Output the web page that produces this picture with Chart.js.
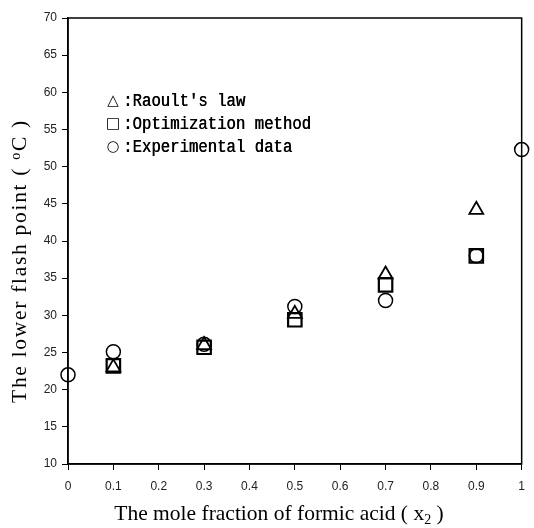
<!DOCTYPE html>
<html>
<head>
<meta charset="utf-8">
<script src="https://cdn.jsdelivr.net/npm/chart.js@4.4.0/dist/chart.umd.min.js"></script>
<style>
  html, body { margin: 0; padding: 0; background: #fff; }
  #wrap { width: 534px; height: 528px; }
</style>
</head>
<body>
<div id="wrap"><canvas id="chart" width="534" height="528"></canvas></div>
<script>
// mole fraction of formic acid (x2)
const xRaoult = [0.1, 0.3, 0.5, 0.7, 0.9];
const raoultLaw = [23.0, 26.0, 30.2, 35.5, 44.2];

const xOptim = [0.1, 0.3, 0.5, 0.7, 0.9];
const optimization = [23.2, 25.7, 29.4, 34.1, 38.0];

const xExp = [0, 0.1, 0.3, 0.5, 0.7, 0.9, 1];
const experimental = [22.0, 25.1, 26.1, 31.2, 32.0, 38.0, 52.3];

const xTicks = [0, 0.1, 0.2, 0.3, 0.4, 0.5, 0.6, 0.7, 0.8, 0.9, 1];
const yTicks = [10, 15, 20, 25, 30, 35, 40, 45, 50, 55, 60, 65, 70];

const legendLabels = [
  { sym: '\u25B3', text: ":Raoult's law" },
  { sym: '\u25A1', text: ':Optimization method' },
  { sym: '\u25CB', text: ':Experimental data' },
];

const toPoints = (xs, ys) => xs.map((x, i) => ({ x: x, y: ys[i] }));

// frame, legend and axis titles drawn on top
const decorations = {
  id: 'decorations',
  afterDraw(chart) {
    const { ctx, chartArea: a } = chart;
    ctx.save();
    ctx.strokeStyle = '#000';
    ctx.lineWidth = 1.5;
    ctx.strokeRect(a.left, a.top, a.right - a.left, a.bottom - a.top);

    // legend
    ctx.fillStyle = '#000';
    ctx.textBaseline = 'middle';
    legendLabels.forEach((item, i) => {
      const y = a.top + 83 + i * 23;
      ctx.font = '15px "DejaVu Sans"';
      ctx.textAlign = 'center';
      ctx.fillText(item.sym, a.left + 45, y);
      ctx.save();
      ctx.translate(a.left + 55, y);
      ctx.scale(0.87, 1);
      ctx.font = '18px "Liberation Mono"';
      ctx.textAlign = 'left';
      ctx.fillText(item.text, 0, 0);
      ctx.fillText(item.text, 0.5, 0);
      ctx.restore();
    });

    // x title
    ctx.textBaseline = 'alphabetic';
    ctx.textAlign = 'left';
    const big = '21.5px "Liberation Serif"';
    const small = '14px "Liberation Serif"';
    const xa = 'The mole fraction of formic acid ( x';
    const xb = ' )';
    ctx.font = big; const w1 = ctx.measureText(xa).width;
    ctx.font = small; const w2 = ctx.measureText('2').width;
    ctx.font = big; const w3 = ctx.measureText(xb).width;
    let x0 = 279 - (w1 + w2 + w3) / 2;
    const by = 520;
    ctx.font = big; ctx.fillText(xa, x0, by);
    ctx.font = small; ctx.fillText('2', x0 + w1, by + 4);
    ctx.font = big; ctx.fillText(xb, x0 + w1 + w2, by);

    // y title
    ctx.save();
    ctx.translate(26, 261);
    ctx.rotate(-Math.PI / 2);
    ctx.letterSpacing = '1.7px';
    const ya = 'The lower flash point ( ';
    const yb = 'C )';
    ctx.font = big; const v1 = ctx.measureText(ya).width;
    ctx.font = small; const v2 = ctx.measureText('o').width;
    ctx.font = big; const v3 = ctx.measureText(yb).width;
    let y0 = -(v1 + v2 + v3) / 2;
    ctx.font = big; ctx.fillText(ya, y0, 0);
    ctx.font = small; ctx.fillText('o', y0 + v1, -6);
    ctx.font = big; ctx.fillText(yb, y0 + v1 + v2, 0);
    ctx.restore();

    ctx.restore();
  }
};

new Chart(document.getElementById('chart'), {
  type: 'scatter',
  data: {
    datasets: [
      {
        label: 'Experimental data',
        data: toPoints(xExp, experimental),
        pointStyle: 'circle',
        pointRadius: 7,
        borderWidth: 1.5,
        borderColor: '#000',
        backgroundColor: 'rgba(0,0,0,0)',
        clip: false,
      },
      {
        label: 'Optimization method',
        data: toPoints(xOptim, optimization),
        pointStyle: 'rect',
        pointRadius: 9.5,
        borderWidth: 2.2,
        borderColor: '#000',
        backgroundColor: 'rgba(0,0,0,0)',
        clip: false,
      },
      {
        label: "Raoult's law",
        data: toPoints(xRaoult, raoultLaw),
        pointStyle: 'triangle',
        pointRadius: 8,
        borderWidth: 1.8,
        borderColor: '#000',
        backgroundColor: 'rgba(0,0,0,0)',
        clip: false,
      },
    ]
  },
  options: {
    responsive: false,
    animation: false,
    layout: { autoPadding: false, padding: { left: 0, top: 18, right: 10, bottom: 0 } },
    plugins: {
      legend: { display: false },
      tooltip: { enabled: false },
    },
    scales: {
      x: {
        type: 'linear',
        min: 0,
        max: 1,
        afterBuildTicks: (scale) => { scale.ticks = xTicks.map(v => ({ value: v })); },
        afterFit: (scale) => { scale.height = 64; },
        ticks: {
          color: '#222',
          font: { family: '"Liberation Sans"', size: 12 },
          padding: 9,
          maxRotation: 0,
          callback: (v) => String(v),
        },
        grid: { drawOnChartArea: false, color: '#000', tickLength: 6, lineWidth: 1 },
        border: { color: '#000', width: 1.5 },
      },
      y: {
        type: 'linear',
        min: 10,
        max: 70,
        afterBuildTicks: (scale) => { scale.ticks = yTicks.map(v => ({ value: v })); },
        afterFit: (scale) => { scale.width = 68; },
        ticks: {
          color: '#222',
          font: { family: '"Liberation Sans"', size: 12 },
          padding: 5,
        },
        grid: { drawOnChartArea: false, color: '#000', tickLength: 6, lineWidth: 1 },
        border: { color: '#000', width: 1.5 },
      },
    },
  },
  plugins: [decorations],
});
</script>
</body>
</html>
